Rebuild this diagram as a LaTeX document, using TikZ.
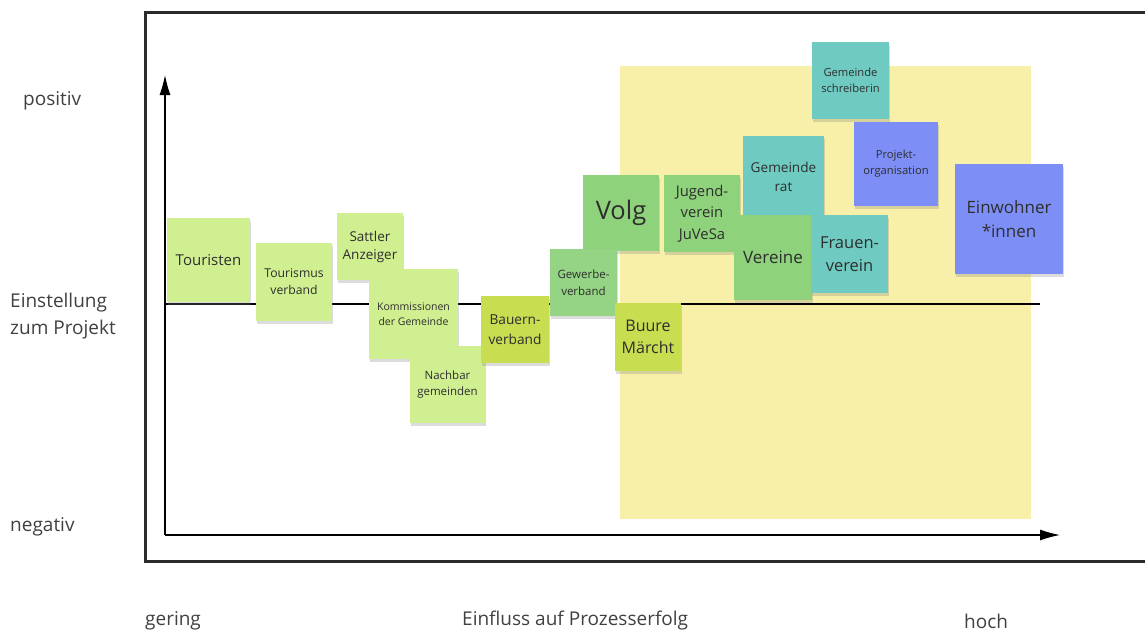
\documentclass[tikz,border=0pt]{standalone}
\usepackage{fontspec}
\setmainfont{Open Sans}
\usetikzlibrary{arrows.meta,shadows}
\definecolor{lgreen}{HTML}{D0EF91}
\definecolor{ygreen}{HTML}{C9DD50}
\definecolor{mgreen}{HTML}{8FD27C}
\definecolor{ngreen}{HTML}{95D485}
\definecolor{nteal}{HTML}{6FCBC1}
\definecolor{nblue}{HTML}{7D8FF6}
\definecolor{bgyellow}{HTML}{F8F0A9}
\definecolor{txt}{HTML}{2E2E2E}
\definecolor{framec}{HTML}{2B2B2B}
\newcommand\fsz[2]{\fontsize{#1}{#2}\selectfont}
\tikzset{
  note/.style={rectangle, inner sep=0pt, align=center, text=txt,
    drop shadow={shadow xshift=1pt, shadow yshift=-3pt, opacity=0.28}},
  lbl/.style={anchor=west, inner sep=0pt, text=black!75, font=\fsz{19}{27}},
  axis/.style={line width=1.2pt, black},
}
\begin{document}
\begin{tikzpicture}[x=1pt,y=-1pt]
\useasboundingbox (0,0) rectangle (1145,632);
% frame
\draw[line width=3pt, framec] (145,12) rectangle (1170,561);
% yellow area
\fill[bgyellow] (620,66) rectangle (1031,519);
% axes
\coordinate (O) at (165,535);
\coordinate (ytip) at (165,75);
\coordinate (xtip) at (1060,535);
\coordinate (mA) at (165,304);
\coordinate (mB) at (1040,304);
\draw[axis, -{Latex[length=20pt,width=11pt]}] (O) -- (ytip);
\draw[axis, -{Latex[length=20pt,width=11pt]}] (O) -- (xtip);
\draw[axis] (mA) -- (mB);
% labels
\node[lbl] (lpos) at (23,101) {positiv};
\node[lbl, align=left, anchor=north west] (lein) at (10,293) {Einstellung\\zum Projekt};
\node[lbl] (lneg) at (10,527) {negativ};
\node[lbl] (lger) at (145,621) {gering};
\node[lbl] (lein2) at (462,621) {Einfluss auf Prozesserfolg};
\node[lbl] (lhoch) at (964,621) {hoch};
% notes
\node[note, fill=lgreen, minimum width=83, minimum height=84, font=\fsz{15}{19}] (tour) at (208.5,260) {Touristen};
\node[note, fill=lgreen, minimum width=76, minimum height=78, font=\fsz{12.2}{17}] (tverb) at (294,282) {Tourismus\\verband};
\node[note, fill=lgreen, minimum width=66, minimum height=67, font=\fsz{13.5}{18}] (sattler) at (370,246.5) {Sattler\\Anzeiger};
\node[note, fill=lgreen, minimum width=89, minimum height=90, font=\fsz{10.5}{15}] (komm) at (413.5,314) {Kommissionen\\der Gemeinde};
\node[note, fill=lgreen, minimum width=75, minimum height=77, font=\fsz{11.5}{16}] (nachbar) at (447.5,384.5) {Nachbar\\gemeinden};
\node[note, fill=mgreen, minimum width=76, minimum height=76, font=\fsz{25.5}{30}] (volg) at (621,213) {Volg};
\node[note, fill=ngreen, minimum width=67, minimum height=67, font=\fsz{11.5}{17}] (gewerbe) at (583.5,282.5) {Gewerbe-\\verband};
\node[note, fill=ygreen, minimum width=68, minimum height=67, font=\fsz{13.7}{19.5}] (bauern) at (515,329.5) {Bauern-\\verband};
\node[note, fill=mgreen, minimum width=76, minimum height=77, font=\fsz{14.8}{21.5}] (jugend) at (702,213.5) {Jugend-\\verein\\JuVeSa};
\node[note, fill=ygreen, minimum width=66, minimum height=68, font=\fsz{16}{22}] (buure) at (648,337) {Buure\\Märcht};
\node[note, fill=nteal, minimum width=81, minimum height=81, font=\fsz{13.6}{19}] (gemrat) at (783.5,176.5) {Gemeinde\\rat};
\node[note, fill=mgreen, minimum width=78, minimum height=85, font=\fsz{17}{22}] (vereine) at (773,257.5) {Vereine};
\node[note, fill=nteal, minimum width=77, minimum height=78, font=\fsz{16.5}{23}] (frauen) at (849.5,254) {Frauen-\\verein};
\node[note, fill=nteal, minimum width=77, minimum height=77, font=\fsz{11.2}{16}] (gschreib) at (850.5,80.5) {Gemeinde\\schreiberin};
\node[note, fill=nblue, minimum width=84, minimum height=84, font=\fsz{11.2}{16}] (projekt) at (896,164) {Projekt-\\organisation};
\node[note, fill=nblue, minimum width=108, minimum height=110, font=\fsz{17}{24}] (einw) at (1009,219) {Einwohner\\*innen};
\end{tikzpicture}
\end{document}
